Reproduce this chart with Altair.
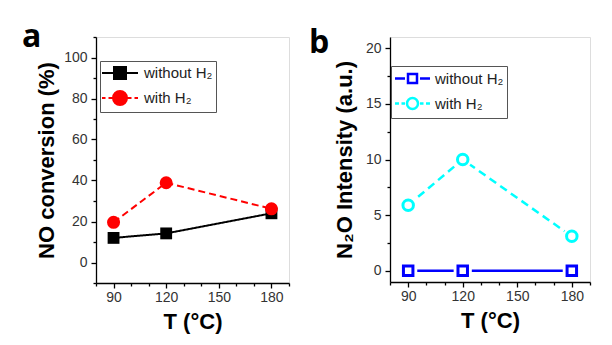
import altair as alt
import pandas as pd

# ---------------- data ----------------
temps = [90, 120, 180]
series_names = ["without H₂", "with H₂"]
no_conv_without = [12.0, 14.2, 24.0]
no_conv_with = [19.6, 38.9, 26.2]
n2o_without = [0.0, 0.0, 0.0]
n2o_with = [5.9, 10.0, 3.1]

x_ticks = list(range(80, 191, 10))
ya_ticks = list(range(-10, 111, 10))
yb_ticks = [i * 2.5 for i in range(0, 9)]

dfa = pd.DataFrame({
    "T": temps + temps,
    "value": no_conv_without + no_conv_with,
    "series": [series_names[0]] * 3 + [series_names[1]] * 3,
})
dfb = pd.DataFrame({
    "T": temps + temps,
    "value": n2o_without + n2o_with,
    "series": [series_names[0]] * 3 + [series_names[1]] * 3,
})

FONT = "Liberation Sans"
LEG_SIZE = 256          # legend symbol box 16 px -> 8 px per path unit
U = 8.0


def seg_path(segs):
    return "".join(f"M{a / U:.3f},0H{b / U:.3f}" for a, b in segs)


def square_path(h):
    h = h / U
    return f"M{-h:.3f},{-h:.3f}H{h:.3f}V{h:.3f}H{-h:.3f}Z"


def circle_path(r):
    r = r / U
    return f"M{-r:.3f},0A{r:.3f},{r:.3f} 0 1,0 {r:.3f},0A{r:.3f},{r:.3f} 0 1,0 {-r:.3f},0Z"


def x_axis():
    major = "(datum.value - 90) % 30 == 0"
    return alt.Axis(
        values=x_ticks, grid=False,
        labelExpr=f"{major} ? datum.label : ''",
        tickSize={"condition": {"test": major, "value": 5}, "value": 3},
        domainColor="black", domainWidth=1.3, tickColor="black", tickWidth=1.3,
        labelFont=FONT, labelFontSize=14, labelColor="#333", labelPadding=2,
        labelOverlap=False, labelFlush=False,
        title="T (°C)", titleFont=FONT, titleFontSize=22, titleFontWeight="bold",
        titleColor="black", titlePadding=7,
    )


def y_axis(ticks, major, title, tpad):
    return alt.Axis(
        values=ticks, grid=False,
        labelExpr=f"{major} ? datum.label : ''",
        tickSize={"condition": {"test": major, "value": 5}, "value": 3},
        domainColor="black", domainWidth=1.3, tickColor="black", tickWidth=1.3,
        labelFont=FONT, labelFontSize=14, labelColor="#333", labelPadding=4,
        labelOverlap=False, labelFlush=False,
        title=title, titleFont=FONT, titleFontSize=22, titleFontWeight="bold",
        titleColor="black", titlePadding=tpad,
    )


def panel(df, ydom, yticks, ymajor, ytitle, tpad, colors, dashes, lw,
          shapes, filled, sizes, halo, legend_paths, legend_fill, leg,
          dims, letter, letter_dx, letter_dy, mstroke):
    base = alt.Chart(df)
    X = alt.X("T:Q", scale=alt.Scale(domain=[80, 190], nice=False, zero=False), axis=x_axis())
    Y = alt.Y("value:Q", scale=alt.Scale(domain=ydom, nice=False, zero=False),
              axis=y_axis(yticks, ymajor, ytitle, tpad))
    cscale = alt.Scale(domain=series_names, range=colors)
    line = base.mark_line(strokeWidth=lw).encode(
        x=X, y=Y,
        color=alt.Color("series:N", scale=cscale, legend=None),
        strokeDash=alt.StrokeDash("series:N", scale=alt.Scale(domain=series_names, range=dashes), legend=None),
        detail="series:N",
    )
    layers = [line]
    for i, name in enumerate(series_names):
        sub = base.transform_filter(alt.datum.series == name)
        if halo:
            layers.append(sub.mark_point(shape=shapes[i], filled=True, color="white", opacity=1,
                                         size=halo[i]).encode(x=X, y=Y))
        if filled[i]:
            layers.append(sub.mark_point(shape=shapes[i], filled=True, opacity=1, size=sizes[i]).encode(
                x=X, y=Y, color=alt.Color("series:N", scale=cscale, legend=None)))
        else:
            layers.append(sub.mark_point(shape=shapes[i], filled=False, fill="white", opacity=1,
                                         size=sizes[i], strokeWidth=mstroke).encode(
                x=X, y=Y, color=alt.Color("series:N", scale=cscale, legend=None)))
    legend_layer = base.transform_filter("false").mark_point(opacity=1).encode(
        shape=alt.Shape("series:N", scale=alt.Scale(domain=series_names, range=legend_paths), legend=leg),
        fill=alt.Fill("series:N", scale=alt.Scale(domain=series_names, range=legend_fill), legend=leg),
        stroke=alt.Stroke("series:N", scale=alt.Scale(domain=series_names, range=colors), legend=leg),
    )
    layers.append(legend_layer)
    return alt.layer(*layers).properties(
        width=dims[0], height=dims[1],
        title=alt.TitleParams(text=letter, anchor="start", frame="group", dx=letter_dx, dy=letter_dy,
                              offset=0, baseline="alphabetic", font="Open Sans", fontSize=32,
                              fontWeight="bold", color="black"),
    ).resolve_scale(shape="independent", fill="independent", stroke="independent")


def make_legend(x, y, sw, sym_offset, label_offset):
    return alt.Legend(
        orient="none", legendX=x, legendY=y, title=None,
        symbolSize=LEG_SIZE, symbolStrokeWidth=sw, symbolOpacity=1,
        labelFont=FONT, labelFontSize=15, labelColor="#222", labelOffset=label_offset,
        strokeColor="#555", fillColor="white", padding=3, rowPadding=4,
        symbolOffset=sym_offset,
    )


# legend symbols (line + marker), built in pixels
path_sq_a = seg_path([(-18, 18)]) + square_path(6)
path_ci_a = seg_path([(-18, -14.5), (-11.5, -7), (7, 11.5), (14.5, 18)]) + circle_path(7)
path_sq_b = seg_path([(-17.5, -7.5), (7.5, 17.5)]) + square_path(4.5)
path_ci_b = seg_path([(-17.5, -13.5), (-11, -7.5), (7.5, 11), (13.5, 17.5)]) + circle_path(5.5)

pa = panel(dfa, [-10, 110], ya_ticks, "datum.value % 20 == 0", "NO conversion (%)", 5,
           ["#000000", "#ff0000"], [[1, 0], [7, 4]], 2,
           ["square", "circle"], [True, True], [140, 170], None,
           [path_sq_a, path_ci_a], ["#000000", "#ff0000"], make_legend(4, 24, 2, 8, 15),
           (193, 246), "a", -74, 49, 2)
pb = panel(dfb, [-1, 21], yb_ticks, "datum.value % 5 == 0", "N₂O Intensity (a.u.)", 9,
           ["#0000ff", "#00ffff"], [[1, 0], [8, 5]], 2.5,
           ["square", "circle"], [False, False], [90, 110], [330, 330],
           [path_sq_b, path_ci_b], ["#ffffff", "#ffffff"], make_legend(1, 29, 2.5, 9, 13),
           (200, 245), "b", -81, 48, 3)

chart = alt.hconcat(pa, pb, spacing=101, bounds="flush").resolve_scale(
    color="independent", strokeDash="independent", shape="independent",
    fill="independent", stroke="independent",
).resolve_legend(shape="independent", fill="independent", stroke="independent").properties(
    padding={"left": 13, "top": 12, "right": 5, "bottom": 5}
).configure_view(stroke=None).configure(background="white")

chart.save("out.html", embed_options={"renderer": "svg", "actions": False})
